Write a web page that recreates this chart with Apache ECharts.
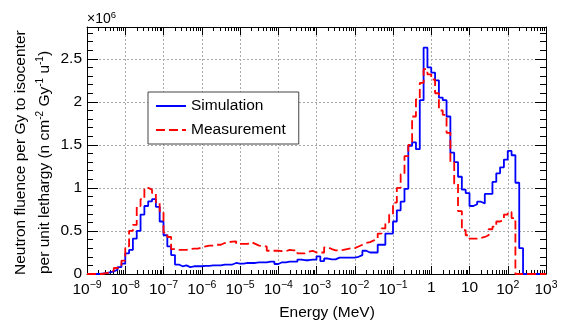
<!DOCTYPE html>
<html><head><meta charset="utf-8">
<script src="https://cdn.jsdelivr.net/npm/echarts@6/dist/echarts.min.js"></script>
<style>html,body{margin:0;padding:0;background:#fff}#c{width:565px;height:324px}</style>
</head><body><div id="c"></div>
<script>
// ---- data (values in units of 10^6) ----
const xMinExp = -9, xMaxExp = 3, binsPerDecade = 10;
const xTickExps = [-9,-8,-7,-6,-5,-4,-3,-2,-1,0,1,2,3];
const yTicks = [0,0.5,1,1.5,2,2.5];
const yMax = 2.87;
const seriesNames = ['Simulation','Measurement'];
const simulation = [
 0,0,0,0.005,0.01,0.02,0.03,0.05,0.08,0.12,
 0.24,0.28,0.41,0.50,0.69,0.79,0.845,0.87,0.78,0.61,
 0.45,0.32,0.22,0.11,0.09,0.10,0.08,0.09,0.09,0.09,
 0.095,0.095,0.10,0.10,0.10,0.11,0.11,0.11,0.128,0.12,
 0.12,0.128,0.128,0.128,0.135,0.135,0.135,0.143,0.143,0.116,
 0.136,0.136,0.143,0.143,0.143,0.167,0.16,0.16,0.167,0.167,
 0.205,0.15,0.18,0.17,0.17,0.19,0.19,0.19,0.19,0.19,
 0.20,0.22,0.27,0.25,0.25,0.25,0.34,0.34,0.47,0.47,
 0.61,0.74,0.84,0.99,1.49,1.53,1.45,2.02,2.63,2.40,
 2.34,2.25,2.05,2.02,1.83,1.41,1.30,1.13,0.98,0.94,
 0.79,0.81,0.84,0.82,0.93,0.93,1.07,1.17,1.24,1.33,
 1.43,1.38,1.06,0.30,0,0,0,0,0,0
];
const measurement = [
 0,0,0,0,0.01,0.02,0.04,0.07,0.08,0.155,
 0.32,0.50,0.57,0.79,0.87,1.00,0.98,0.94,0.83,0.73,
 0.48,0.43,0.29,0.28,0.28,0.28,0.29,0.295,0.295,0.306,
 0.32,0.33,0.33,0.34,0.34,0.36,0.37,0.376,0.38,0.35,
 0.35,0.35,0.37,0.35,0.33,0.32,0.32,0.27,0.27,0.27,
 0.265,0.265,0.28,0.275,0.275,0.24,0.24,0.26,0.27,0.25,
 0.25,0.25,0.31,0.29,0.275,0.275,0.28,0.29,0.30,0.30,
 0.32,0.34,0.36,0.37,0.39,0.41,0.47,0.53,0.60,0.69,
 0.83,1.00,1.16,1.37,1.50,1.83,2.03,2.22,2.38,2.32,
 2.26,2.10,1.90,1.85,1.64,1.30,1.05,0.73,0.51,0.45,
 0.41,0.41,0.42,0.43,0.45,0.52,0.55,0.61,0.63,0.69,
 0.72,0.65,0,0,0,0,0,0,0,0
];

// ---- build ----
const FONT = "'Liberation Sans', Arial, Helvetica, sans-serif";
function toSteps(vals){
  const pts = [];
  for (let i = 0; i < vals.length; i++) pts.push([xMinExp + i/binsPerDecade, vals[i]]);
  pts.push([xMinExp + vals.length/binsPerDecade, vals[vals.length-1]]);
  return pts;
}
const minorX = [];
for (let n = xMinExp; n < xMaxExp; n++) for (let k = 2; k <= 9; k++) minorX.push(n + Math.log10(k));
const minorY = [];
for (let j = 1; j <= 28; j++) if (j % 5) minorY.push(j/10);

function xLabel(v){
  if (v === 0) return '{b|1}';
  if (v === 1) return '{b|10}';
  return '{b|10}{s|' + (v < 0 ? '\u2212' + (-v) : v) + '}';
}
const rich = {
  b: {fontSize: 15.5, fontFamily: FONT, color: '#000', verticalAlign: 'bottom'},
  s: {fontSize: 10.5, fontFamily: FONT, color: '#000', verticalAlign: 'bottom', padding: [0,0,7,0]}
};
const tickLine = {color: '#000', width: 1};
function xAx(pos, major){
  return {
    type: 'value', position: pos, min: xMinExp, max: xMaxExp,
    axisLine: {show: major, onZero: false, lineStyle: {color: '#000', width: 1}},
    axisTick: {show: true, inside: true, length: major ? 8 : 4, lineStyle: tickLine,
               customValues: major ? xTickExps : minorX},
    axisLabel: (major && pos === 'bottom') ? {show: true, customValues: xTickExps, formatter: xLabel, rich: rich, margin: 6} : {show: false},
    splitLine: (major && pos === 'bottom') ? {show: true, lineStyle: {color: '#aaa', type: [2,2], width: 1}} : {show: false}
  };
}
function yAx(pos, major){
  return {
    type: 'value', position: pos, min: 0, max: yMax,
    axisLine: {show: major, onZero: false, lineStyle: {color: '#000', width: 1}},
    axisTick: {show: true, inside: true, length: major ? 11 : 6, lineStyle: tickLine,
               customValues: major ? yTicks : minorY},
    axisLabel: (major && pos === 'left') ? {show: true, customValues: yTicks, color: '#000', fontSize: 15.5, fontFamily: FONT, margin: 5} : {show: false},
    splitLine: (major && pos === 'left') ? {show: true, lineStyle: {color: '#aaa', type: [2,2], width: 1}} : {show: false}
  };
}

const chart = echarts.init(document.getElementById('c'), null, {renderer: 'canvas'});
chart.setOption({
  animation: false,
  backgroundColor: '#fff',
  grid: {left: 87, top: 27, width: 459, height: 247, containLabel: false},
  xAxis: [xAx('bottom', true), xAx('bottom', false), xAx('top', true), xAx('top', false)],
  yAxis: [yAx('left', true), yAx('left', false), yAx('right', true), yAx('right', false)],
  legend: {
    data: seriesNames, orient: 'vertical', left: 148, top: 92,
    itemWidth: 30, itemHeight: 14, itemGap: 8,
    padding: [6, 13, 6, 7],
    backgroundColor: '#fff', borderColor: '#444', borderWidth: 1,
    itemStyle: {opacity: 0},
    textStyle: {fontSize: 15.5, fontFamily: FONT, color: '#000', lineHeight: 16},
    selectedMode: false
  },
  series: [
    {name: seriesNames[0], type: 'line', step: 'end', symbol: 'none', showSymbol: false, xAxisIndex: 0, yAxisIndex: 0,
     data: toSteps(simulation), lineStyle: {color: '#0000ff', width: 1.8}, itemStyle: {color: '#0000ff'}, z: 3},
    {name: seriesNames[1], type: 'line', step: 'end', symbol: 'none', showSymbol: false, xAxisIndex: 0, yAxisIndex: 0,
     data: toSteps(measurement), lineStyle: {color: '#ff0000', width: 1.8, type: [9,4]}, itemStyle: {color: '#ff0000'}, z: 4}
  ],
  graphic: [
    {type: 'text', x: 87, y: 18, style: {text: '{a|\u00d710}{e|6}', verticalAlign: 'middle',
      rich: {a: {fontSize: 14, fontFamily: FONT, color: '#000', verticalAlign: 'bottom'},
             e: {fontSize: 9.5, fontFamily: FONT, color: '#000', verticalAlign: 'bottom', padding: [0,0,6,0]}}}},
    {type: 'text', x: 327, y: 313, style: {text: 'Energy (MeV)', align: 'center', verticalAlign: 'middle',
      fontSize: 15.5, fontFamily: FONT, fill: '#000'}},
    {type: 'text', x: 21, y: 275, rotation: Math.PI/2, style: {text: 'Neutron fluence per Gy to isocenter',
      align: 'left', verticalAlign: 'middle', fontSize: 15.5, fontFamily: FONT, fill: '#000'}},
    {type: 'text', x: 44, y: 274, rotation: Math.PI/2, style: {
      text: '{t|per unit lethargy (n cm}{s|-2}{t| Gy}{s|-1}{t| u}{s|-1}{t|)}',
      align: 'left', verticalAlign: 'middle',
      rich: {t: {fontSize: 15.5, fontFamily: FONT, color: '#000', verticalAlign: 'bottom'},
             s: {fontSize: 10, fontFamily: FONT, color: '#000', verticalAlign: 'bottom', padding: [0,0,7,0]}}}}
  ]
});
</script></body></html>
